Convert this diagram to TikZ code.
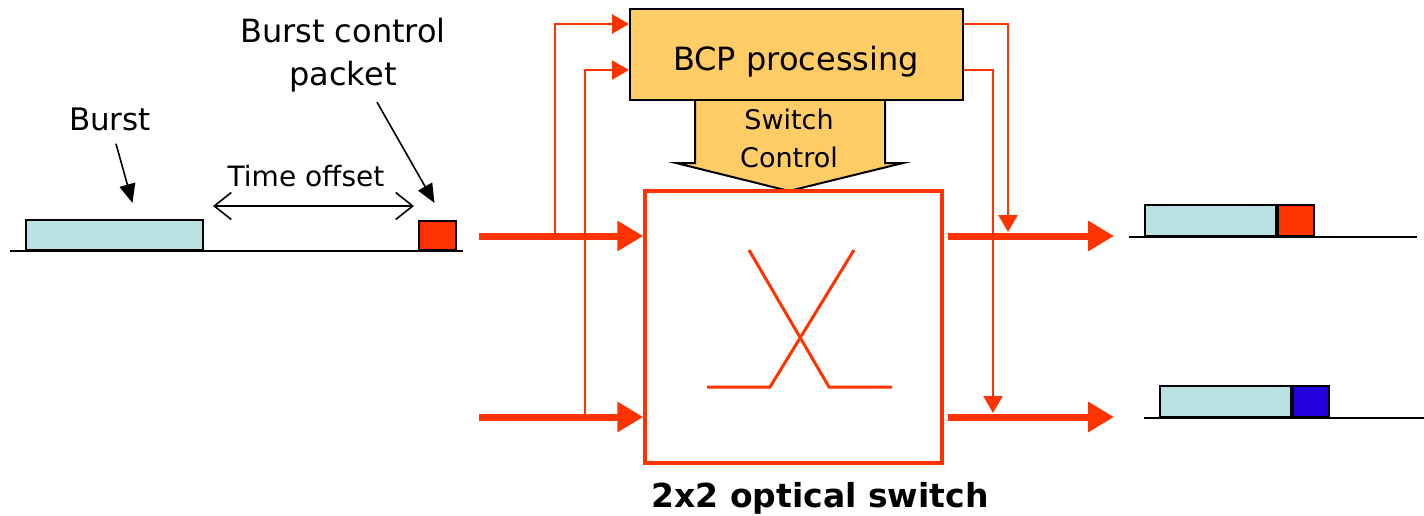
\documentclass[tikz,border=0pt]{standalone}
\usepackage{fontspec}
\setmainfont{DejaVu Sans}
\usetikzlibrary{arrows.meta}
\definecolor{burstblue}{HTML}{B9E0E3}
\definecolor{ctrlred}{HTML}{FF3300}
\definecolor{bcpyellow}{HTML}{FFCC66}
\definecolor{hdrblue}{HTML}{2200DD}
\begin{document}
\begin{tikzpicture}[x=1pt, y=-1pt,
    box/.style={draw, line width=2pt, inner sep=0pt, anchor=south west},
    lbl/.style={inner sep=0pt, align=center},
    thinred/.style={draw=ctrlred, line width=2.3pt},
    thinarrow/.style={thinred, -{Triangle[length=17pt,width=19pt]}},
    fatred/.style={draw=ctrlred, line width=7pt, -{Triangle[length=26pt,width=29pt]}},
    pointer/.style={line width=1.6pt, -{Triangle[length=19pt,width=16pt]}},
    timeline/.style={line width=1.6pt}]
    \useasboundingbox (0,0) rectangle (1424,516);

    % incoming burst and its control packet
    \draw[timeline] (10,251) -- (463,251);
    \node[box, fill=burstblue, minimum width=177pt, minimum height=30pt] (burstin) at (25,251) {};
    \node[box, fill=ctrlred, minimum width=37pt, minimum height=29pt] (bcpin) at (418,251) {};
    \node[lbl, font=\fontsize{31}{38}\selectfont] (burstlbl) at (110,119) {Burst};
    \node[lbl, font=\fontsize{32}{43}\selectfont] (bcplbl) at (343,55) {Burst control\\packet};
    \node[lbl, font=\fontsize{28}{34}\selectfont] (offsetlbl) at (306,176) {Time offset};
    \draw[pointer] ([xshift=6pt,yshift=-13pt]burstlbl.south) -- ([xshift=18pt,yshift=16pt]burstin.north);
    \draw[pointer] ([xshift=34pt,yshift=-10pt]bcplbl.south) -- ([xshift=-3pt,yshift=17pt]bcpin.north);
    \draw[timeline, {Straight Barb[length=17pt,width=27pt]}-{Straight Barb[length=17pt,width=27pt]}]
        ([xshift=9pt,yshift=45pt]burstin.south east) -- ([xshift=-4pt,yshift=45pt]bcpin.south west);

    % control unit
    \draw[line width=2pt, fill=bcpyellow] (695,100) -- (695,163) -- (676,163) -- (789,191)
        -- (903,163) -- (885,163) -- (885,100);
    \node[draw, line width=2pt, fill=bcpyellow, minimum width=333pt, minimum height=91pt] (bcp) at (796.5,54.5) {};
    \node[lbl, font=\fontsize{32}{40}\selectfont] (bcptext) at (796,62) {BCP processing};
    \node[lbl, font=\fontsize{27}{38}\selectfont] (ctrltext) at (789,138) {Switch\\Control};

    % switch fabric
    \node[draw=ctrlred, line width=3.5pt, minimum width=297pt, minimum height=272pt] (sw) at (793.5,327) {};
    \draw[thinred, line width=3pt] (749,250) -- (829,387) -- (892,387);
    \draw[thinred, line width=3pt] (854,250) -- (770,387) -- (707,387);
    \node[lbl, font=\bfseries\fontsize{33}{40}\selectfont] (caption) at (820,498) {2x2 optical switch};

    % inputs
    \coordinate (inA) at (479,236);
    \coordinate (inB) at (479,417);
    \coordinate (tapA) at (555,236);
    \coordinate (tapB) at (585,417);
    \draw[thinarrow] (tapA) |- ([yshift=30.5pt]bcp.west);
    \draw[thinarrow] (tapB) |- ([yshift=-15.5pt]bcp.west);
    \draw[fatred] (inA) -- (inA -| sw.west);
    \draw[fatred] (inB) -- (inB -| sw.west);

    % outputs
    \coordinate (outA) at (948,236);
    \coordinate (outB) at (948,417);
    \coordinate (endA) at (1114,236);
    \coordinate (endB) at (1114,417);
    \coordinate (dropA) at (1008,232);
    \coordinate (dropB) at (993,413);
    \draw[fatred] (outA) -- (endA);
    \draw[fatred] (outB) -- (endB);
    \draw[thinarrow] ([yshift=30.5pt]bcp.east) -| (dropA);
    \draw[thinarrow] ([yshift=-15.5pt]bcp.east) -| (dropB);

    % outgoing bursts
    \draw[timeline] (1129,237) -- (1417,237);
    \node[box, fill=burstblue, minimum width=131pt, minimum height=31pt] (burstA) at (1144,237) {};
    \node[box, fill=ctrlred, minimum width=36pt, minimum height=31pt] (bcpA) at (burstA.south east) {};
    \draw[timeline] (1144,418) -- (1424,418);
    \node[box, fill=burstblue, minimum width=131pt, minimum height=31pt] (burstB) at (1159,418) {};
    \node[box, fill=hdrblue, minimum width=36pt, minimum height=31pt] (bcpB) at (burstB.south east) {};
\end{tikzpicture}
\end{document}
